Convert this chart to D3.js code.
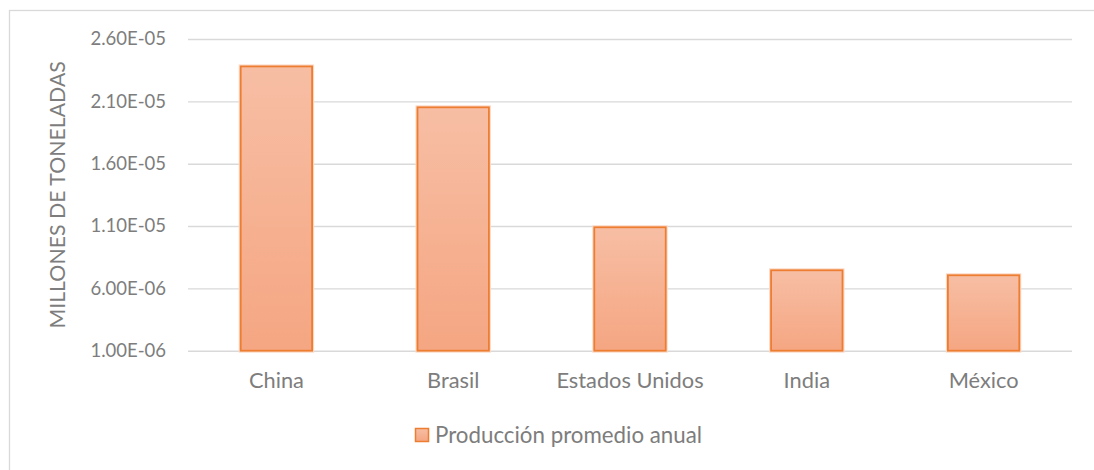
<!DOCTYPE html>
<html>
<head>
<meta charset="utf-8">
<script src="https://cdn.jsdelivr.net/npm/d3@7"></script>
<style>
  html, body { margin: 0; padding: 0; background: #fff; }
  svg { display: block; }
  text { font-family: Lato, "Open Sans", sans-serif; fill: #7d7d7d; }
</style>
</head>
<body>
<svg id="chart" width="1094" height="470"></svg>
<script>
// Producción promedio anual por país (millones de toneladas)
const countries = ["China", "Brasil", "Estados Unidos", "India", "México"];
const production = [2.38e-5, 2.052e-5, 1.09e-5, 7.45e-6, 7.05e-6];
const yTicks = [1e-6, 6e-6, 1.1e-5, 1.6e-5, 2.1e-5, 2.6e-5];
const yTitle = "MILLONES DE TONELADAS";
const seriesName = "Producción promedio anual";

const svg = d3.select("#chart");
const W = 1094, H = 470;
const plot = { left: 188, right: 1072, top: 39, bottom: 350.7 };
const textColor = "#7d7d7d";

// Outer chart frame (extends past the right and bottom edges)
svg.append("rect")
  .attr("x", 9.5).attr("y", 10.5)
  .attr("width", W + 20).attr("height", H + 20)
  .attr("fill", "none").attr("stroke", "#d9d9d9").attr("stroke-width", 1.3);

const x = d3.scaleBand()
  .domain(countries)
  .range([plot.left, plot.right])
  .paddingInner(0.596).paddingOuter(0.298);

const y = d3.scaleLinear()
  .domain([1e-6, 2.6e-5])
  .range([plot.bottom, plot.top]);

// Bar gradient
const defs = svg.append("defs");
const grad = defs.append("linearGradient")
  .attr("id", "barFill").attr("x1", 0).attr("y1", 0).attr("x2", 0).attr("y2", 1);
grad.append("stop").attr("offset", "0%").attr("stop-color", "#f7bea4");
grad.append("stop").attr("offset", "100%").attr("stop-color", "#f5a682");

// Gridlines and value labels
const yAxis = d3.axisLeft(y)
  .tickValues(yTicks)
  .tickSize(-(plot.right - plot.left))
  .tickPadding(22)
  .tickFormat(d => {
    const [m, e] = d.toExponential(2).split("e");
    const ev = parseInt(e, 10);
    return m + "E" + (ev < 0 ? "-" : "+") + String(Math.abs(ev)).padStart(2, "0");
  });

const gy = svg.append("g")
  .attr("transform", `translate(${plot.left},0)`)
  .call(yAxis);
gy.select(".domain").remove();
gy.selectAll(".tick line").attr("stroke", "#d9d9d9").attr("stroke-width", 1.4);
gy.selectAll(".tick text")
  .attr("font-size", 18.5).attr("fill", textColor)
  .style("font-family", "Lato, sans-serif");

// Bars
const bars = svg.append("g");
bars.selectAll("rect.halo")
  .data(countries)
  .join("rect")
  .attr("class", "halo")
  .attr("x", d => x(d))
  .attr("y", (d, i) => y(production[i]))
  .attr("width", x.bandwidth())
  .attr("height", (d, i) => y(1e-6) - y(production[i]))
  .attr("fill", "none")
  .attr("stroke", "#fbd9c6")
  .attr("stroke-width", 4);
bars.selectAll("rect.bar")
  .data(countries)
  .join("rect")
  .attr("class", "bar")
  .attr("x", d => x(d))
  .attr("y", (d, i) => y(production[i]))
  .attr("width", x.bandwidth())
  .attr("height", (d, i) => y(1e-6) - y(production[i]))
  .attr("fill", "url(#barFill)")
  .attr("stroke", "#ed7d31")
  .attr("stroke-width", 1.8);

// Category axis labels
const xAxis = d3.axisBottom(x).tickSize(0).tickPadding(22);
const gx = svg.append("g")
  .attr("transform", `translate(0,${plot.bottom})`)
  .call(xAxis);
gx.select(".domain").remove();
gx.selectAll(".tick text")
  .attr("font-size", 21.8).attr("fill", textColor)
  .style("font-family", "Lato, sans-serif");

// Y axis title
svg.append("text")
  .attr("transform", `translate(65,${(plot.top + plot.bottom) / 2}) rotate(-90)`)
  .attr("text-anchor", "middle")
  .attr("font-size", 21.3)
  .text(yTitle);

// Legend
const legend = svg.append("g").attr("transform", "translate(415,428)");
legend.append("rect")
  .attr("x", 0.5).attr("y", 0.5).attr("width", 13).attr("height", 13)
  .attr("fill", "url(#barFill)").attr("stroke", "#ed7d31").attr("stroke-width", 1.5);
legend.append("text")
  .attr("x", 20).attr("y", 14.5)
  .attr("font-size", 22.3)
  .text(seriesName);
</script>
</body>
</html>
